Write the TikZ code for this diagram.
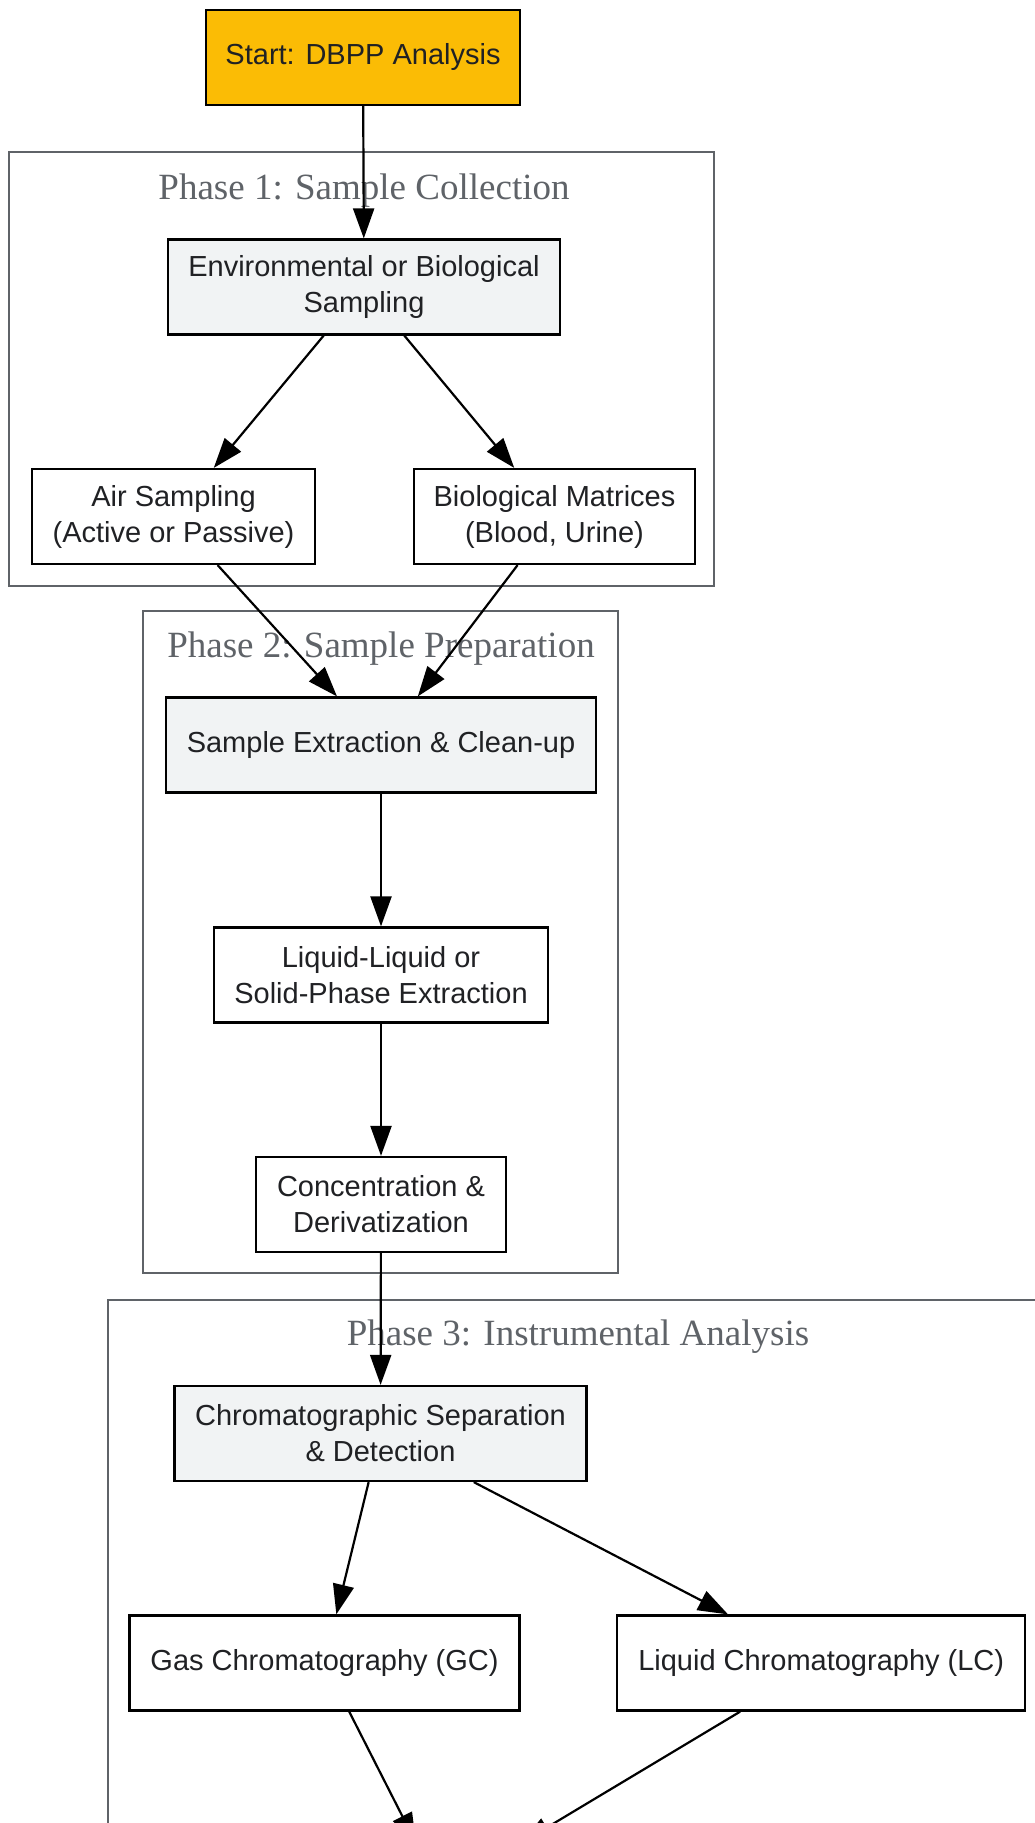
\documentclass[tikz,border=0pt]{standalone}
\usepackage{fontspec}
\setmainfont{Liberation Serif}
\newfontfamily\boxfont{Liberation Sans}
\usetikzlibrary{calc}
\usetikzlibrary{positioning}
\usetikzlibrary{arrows.meta}
\definecolor{startyellow}{HTML}{FBBC05}
\definecolor{stepgray}{HTML}{F1F3F4}
\definecolor{clustergray}{HTML}{5F6368}
\definecolor{inkgray}{HTML}{202124}
\tikzstyle{flownode} = [draw, line width=2.2pt, minimum height=95pt, inner sep=0pt, align=center, text=inkgray, font=\boxfont\fontsize{29}{36}\selectfont]
\tikzstyle{mainstep} = [fill=stepgray]
\tikzstyle{startnode} = [fill=startyellow]
\tikzstyle{phasebox} = [draw=clustergray, line width=2.2pt]
\tikzstyle{phaselabel} = [text=clustergray, anchor=base, font=\fontsize{37}{44}\selectfont]
\tikzstyle{flowedge} = [line width=2.2pt, -{Triangle[length=30pt,width=21pt]}]

\begin{document}
\begin{tikzpicture}[x=1pt, y=-1pt]
    \useasboundingbox (0,0) rectangle (1035,1823);
    \clip (0,0) rectangle (1035,1823);
    \fill[white] (0,0) rectangle (1035,1823);

    % phase frames
    \draw[phasebox] (9,152) rectangle (714,586);
    \node[phaselabel] (phase_one) at (364,199) {Phase 1: Sample Collection};
    \draw[phasebox] (143,611) rectangle (618,1273);
    \node[phaselabel] (phase_two) at (381,657) {Phase 2: Sample Preparation};
    \draw[phasebox] (108,1300) rectangle (1080,1900);
    \node[phaselabel] (phase_three) at (578,1345) {Phase 3: Instrumental Analysis};

    \node[flownode, startnode, minimum width=314pt] (start_dbpp) at (363,57.5)
{Start: DBPP Analysis};
    \node[flownode, mainstep, minimum width=392pt] (env_sampling) at
($(start_dbpp)+(1,229.5)$) {Environmental or Biological\\Sampling};
    \node[flownode, minimum width=283pt] (air_sampling) at
($(env_sampling)+(-190.5,229.5)$) {Air Sampling\\(Active or Passive)};
    \node[flownode, minimum width=281pt] (bio_matrices) at
($(env_sampling)+(190.5,229.5)$) {Biological Matrices\\(Blood, Urine)};

    \node[flownode, mainstep, minimum width=430pt] (extract_clean) at (381,745)
{Sample Extraction \& Clean-up};
    \node[flownode, minimum width=334pt] (lle_spe) at ($(extract_clean)+(0,230)$)
{Liquid-Liquid or\\Solid-Phase Extraction};
    \node[flownode, minimum width=250pt] (conc_deriv) at ($(lle_spe)+(0,229.5)$)
{Concentration \&\\Derivatization};

    \node[flownode, mainstep, minimum width=412pt] (chrom_sep) at
($(conc_deriv)+(-0.5,229)$) {Chromatographic Separation\\\& Detection};
    \node[flownode, minimum width=390pt] (gc_chrom) at ($(chrom_sep)+(-56,229.5)$)
{Gas Chromatography (GC)};
    \node[flownode, minimum width=408pt] (lc_chrom) at ($(chrom_sep)+(440.7,229.5)$)
{Liquid Chromatography (LC)};
    \coordinate (gc_exit) at (416,1843);
    \coordinate (lc_exit) at (521,1843);

    \draw[flowedge] (start_dbpp) -- (env_sampling);
    \draw[flowedge] (env_sampling) -- (air_sampling);
    \draw[flowedge] (env_sampling) -- (bio_matrices);
    \draw[flowedge] (air_sampling) -- (extract_clean);
    \draw[flowedge] (bio_matrices) -- (extract_clean);
    \draw[flowedge] (extract_clean) -- (lle_spe);
    \draw[flowedge] (lle_spe) -- (conc_deriv);
    \draw[flowedge] (conc_deriv) -- (chrom_sep);
    \draw[flowedge] (chrom_sep) -- (gc_chrom);
    \draw[flowedge] (chrom_sep) -- (lc_chrom);
    \draw[flowedge] (gc_chrom) -- (gc_exit);
    \draw[flowedge] (lc_chrom) -- (lc_exit);
\end{tikzpicture}
\end{document}
